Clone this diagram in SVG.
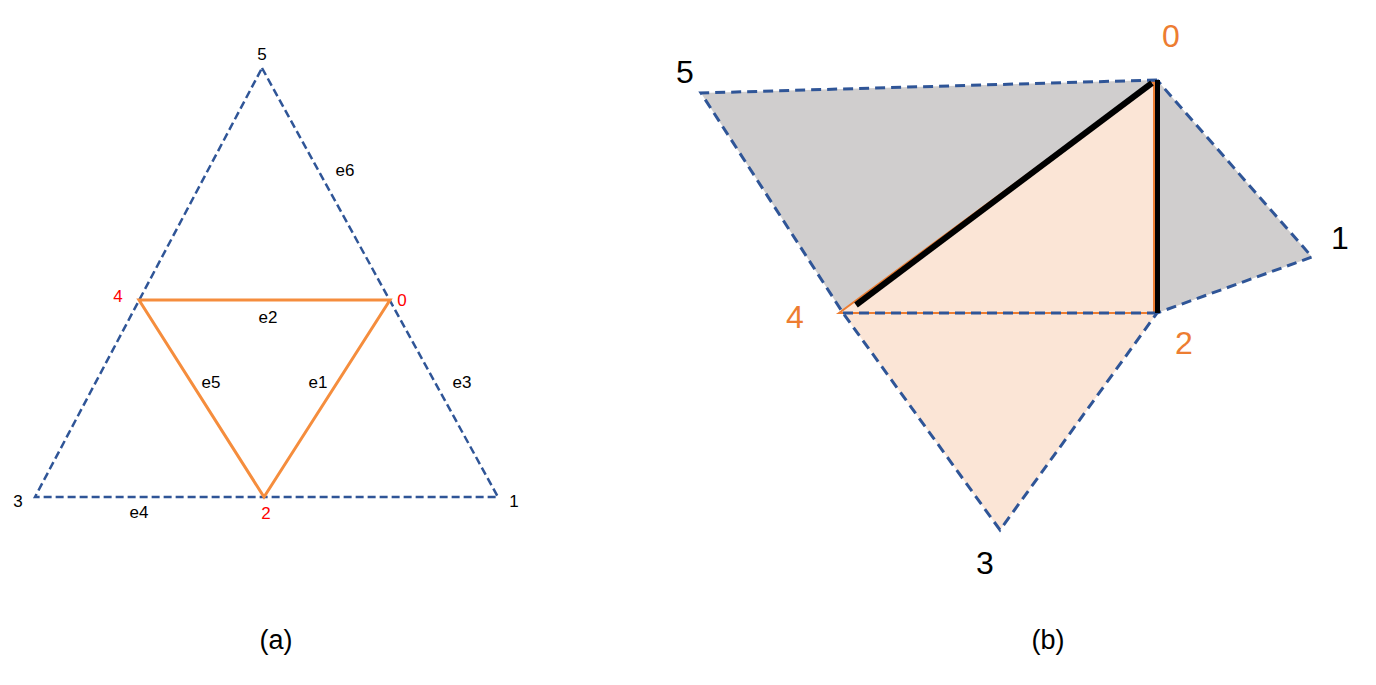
<svg xmlns="http://www.w3.org/2000/svg" width="1376" height="685" viewBox="0 0 1376 685">
<style>
.bg{fill:#ffffff}
.dashA{fill:none;stroke:#2F5597;stroke-width:2.5;stroke-dasharray:8,4}
.dashB{fill:none;stroke:#2F5597;stroke-width:3;stroke-dasharray:10,6}
.orA{fill:none;stroke:#F58D3D;stroke-width:3;stroke-linejoin:miter}
.orB{stroke:#ED7D31;stroke-width:2;fill:#FBE5D6}
.grey{fill:#D0CECE;stroke:none}
.peach{fill:#FBE5D6;stroke:none}
.blk{stroke:#000000;stroke-width:6;fill:none}
.t{font-family:"Liberation Sans",Arial,sans-serif;text-anchor:middle;fill:#000000}
.ta{font-size:17px}
.tb{font-size:32px}
.red{fill:#FF0000}
.org{fill:#ED7D31}
.cap{font-size:27px}
</style>
<rect class="bg" x="0" y="0" width="1376" height="685"/>

<g id="panel-a">
  <g id="a-connectors">
    <polygon class="dashA" points="262,68 498,497 35,497"/>
    <polygon class="orA" points="139,300 390,300 264,497"/>
  </g>
  <g id="a-node-5"><text class="t ta" x="262" y="60">5</text></g>
  <g id="a-node-4"><text class="t ta red" x="118" y="302">4</text></g>
  <g id="a-node-0"><text class="t ta red" x="402" y="306">0</text></g>
  <g id="a-node-3"><text class="t ta" x="18" y="507">3</text></g>
  <g id="a-node-1"><text class="t ta" x="514" y="507">1</text></g>
  <g id="a-node-2"><text class="t ta red" x="266" y="519">2</text></g>
  <g id="a-edge-labels">
    <text class="t ta" x="345" y="176">e6</text>
    <text class="t ta" x="268" y="323">e2</text>
    <text class="t ta" x="211" y="388">e5</text>
    <text class="t ta" x="318" y="388">e1</text>
    <text class="t ta" x="462" y="388">e3</text>
    <text class="t ta" x="139" y="518">e4</text>
  </g>
  <text class="t cap" x="276" y="649">(a)</text>
</g>

<g id="panel-b">
  <g id="b-faces">
    <polygon class="grey" points="701,93 1157,80 843,313"/>
    <polygon class="grey" points="1157,80 1312,257 1157,313"/>
    <polygon class="peach" points="843,313 1157,313 1000,530"/>
    <polygon class="orB" points="839,313 1154,81 1154,313"/>
  </g>
  <g id="b-connectors">
    <polyline class="dashB" points="1157,80 701,93 843,313 1000,530 1157,313 1312,257 1157,80"/>
    <line class="dashB" x1="843" y1="313" x2="1157" y2="313"/>
    <line class="blk" x1="856" y1="305" x2="1152" y2="83"/>
    <line class="blk" x1="1157.5" y1="80" x2="1157.5" y2="313" style="stroke-width:5"/>
  </g>
  <g id="b-node-5"><text class="t tb" x="685" y="83">5</text></g>
  <g id="b-node-0"><text class="t tb org" x="1171" y="47">0</text></g>
  <g id="b-node-1"><text class="t tb" x="1340" y="249">1</text></g>
  <g id="b-node-4"><text class="t tb org" x="795" y="328">4</text></g>
  <g id="b-node-2"><text class="t tb org" x="1184" y="354">2</text></g>
  <g id="b-node-3"><text class="t tb" x="985" y="574">3</text></g>
  <text class="t cap" x="1048" y="649">(b)</text>
</g>
</svg>
